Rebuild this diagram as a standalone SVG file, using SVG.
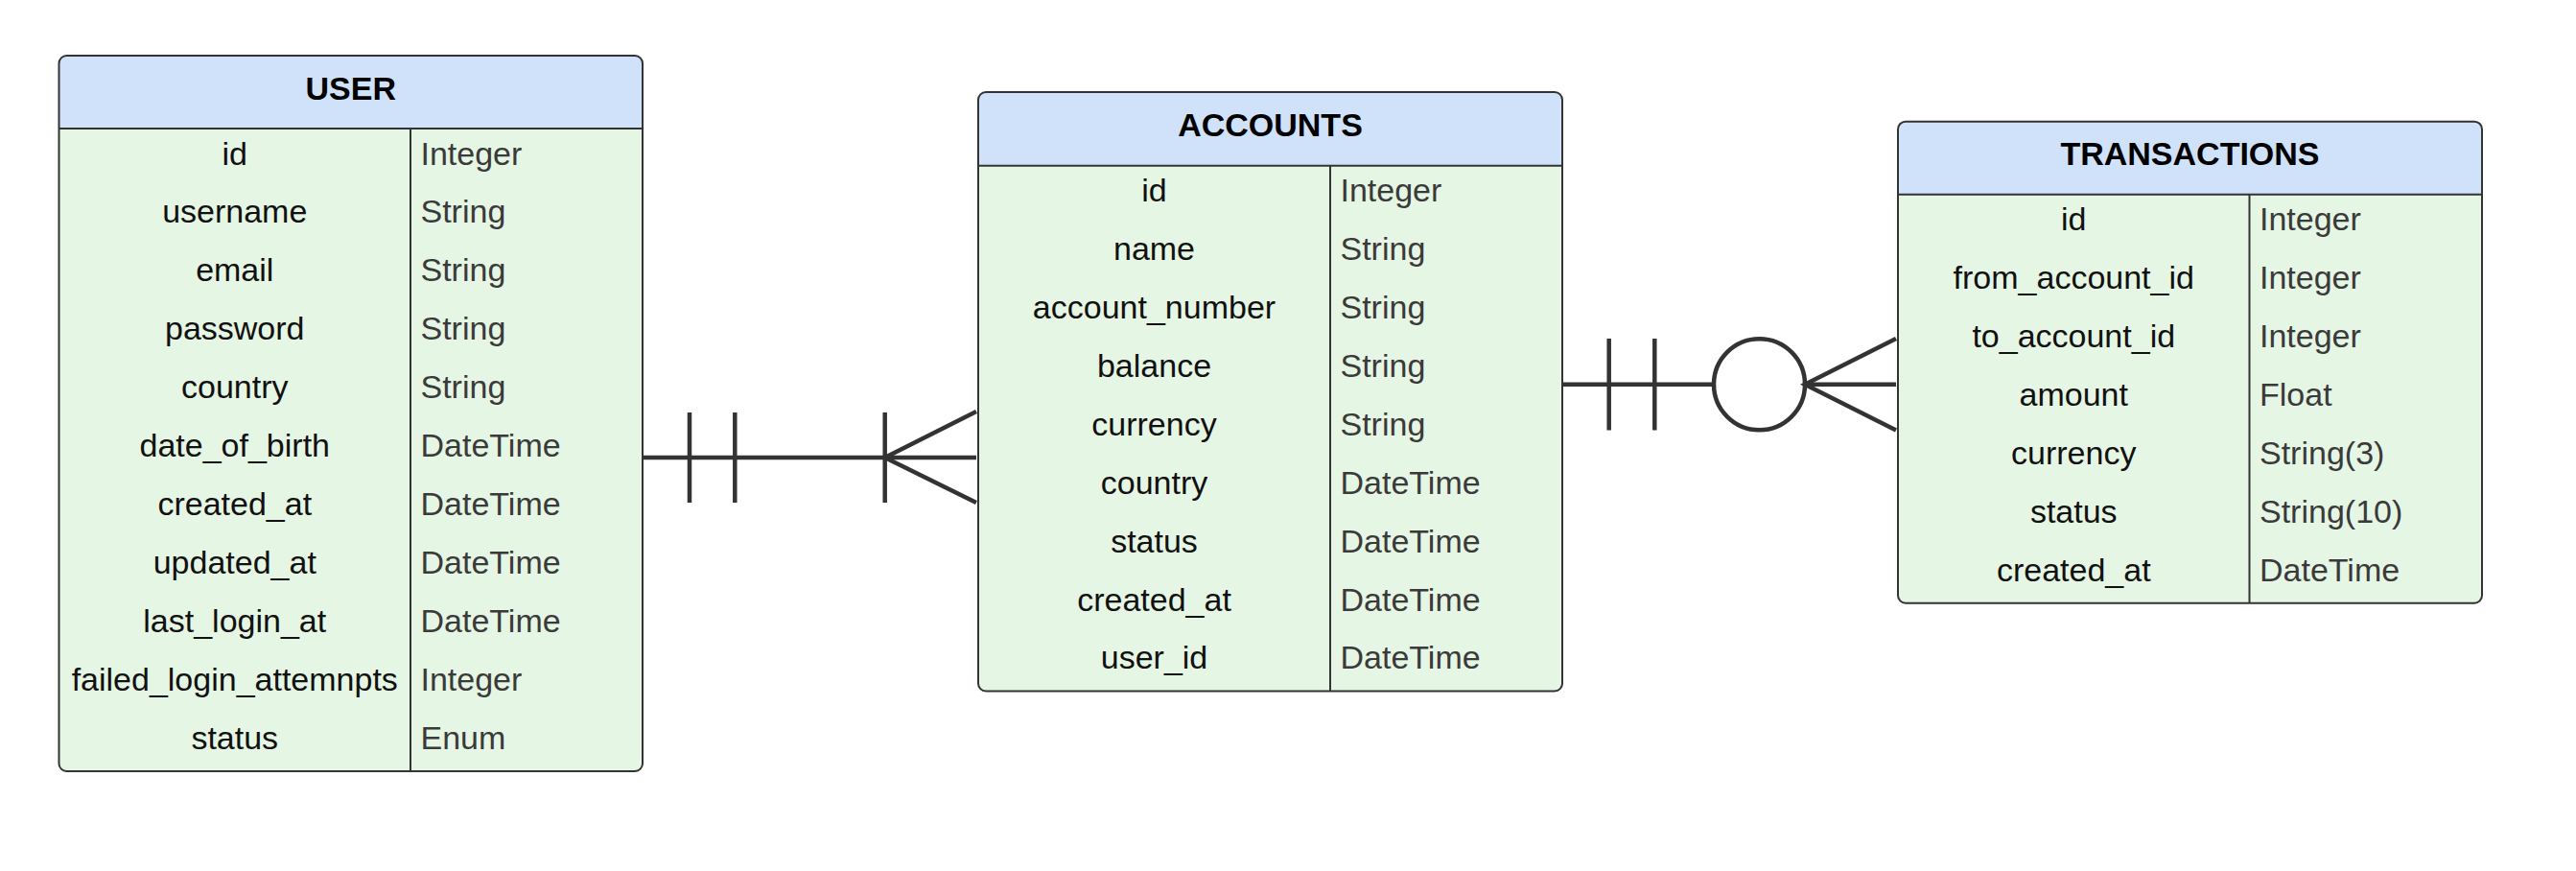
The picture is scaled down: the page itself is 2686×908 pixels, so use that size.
<svg xmlns="http://www.w3.org/2000/svg" width="2686" height="908" viewBox="0 0 2686 908">
<style>
.body{fill:#e6f6e4;stroke:none}
.head{fill:#d0e2fa;stroke:none}
.outline{fill:none;stroke:#333333;stroke-width:2}
.div{stroke:#333333;stroke-width:2;fill:none}
.title{font-family:"Liberation Sans",Arial,sans-serif;font-size:34px;font-weight:bold;fill:#000000;text-anchor:middle}
.name{font-family:"Liberation Sans",Arial,sans-serif;font-size:34px;fill:#111111;text-anchor:middle}
.type{font-family:"Liberation Sans",Arial,sans-serif;font-size:34px;fill:#3a3a3a;text-anchor:start}
.conn{stroke:#333333;stroke-width:4.5;fill:none}
</style>
<rect width="2686" height="908" fill="#ffffff"/>
<g id="user">
<rect class="body" x="61.5" y="58" width="608.5" height="746" rx="8"/>
<path class="head" d="M61.5,134 V66 A8,8 0 0 1 69.5,58 H662 A8,8 0 0 1 670,66 V134 Z"/>
<line class="div" x1="61.5" y1="134" x2="670" y2="134"/>
<line class="div" x1="428" y1="134" x2="428" y2="804"/>
<rect class="outline" x="61.5" y="58" width="608.5" height="746" rx="8"/>
<text class="title" x="365.75" y="103.5">USER</text>
<text class="name" x="244.75" y="171.5">id</text><text class="type" x="438.5" y="171.5">Integer</text>
<text class="name" x="244.75" y="232.4">username</text><text class="type" x="438.5" y="232.4">String</text>
<text class="name" x="244.75" y="293.3">email</text><text class="type" x="438.5" y="293.3">String</text>
<text class="name" x="244.75" y="354.2">password</text><text class="type" x="438.5" y="354.2">String</text>
<text class="name" x="244.75" y="415.1">country</text><text class="type" x="438.5" y="415.1">String</text>
<text class="name" x="244.75" y="476">date_of_birth</text><text class="type" x="438.5" y="476">DateTime</text>
<text class="name" x="244.75" y="536.9">created_at</text><text class="type" x="438.5" y="536.9">DateTime</text>
<text class="name" x="244.75" y="597.8">updated_at</text><text class="type" x="438.5" y="597.8">DateTime</text>
<text class="name" x="244.75" y="658.7">last_login_at</text><text class="type" x="438.5" y="658.7">DateTime</text>
<text class="name" x="244.75" y="719.6">failed_login_attemnpts</text><text class="type" x="438.5" y="719.6">Integer</text>
<text class="name" x="244.75" y="780.5">status</text><text class="type" x="438.5" y="780.5">Enum</text>
</g>
<g id="accounts">
<rect class="body" x="1020" y="96" width="609" height="624.5" rx="8"/>
<path class="head" d="M1020,172.7 V104 A8,8 0 0 1 1028,96 H1621 A8,8 0 0 1 1629,104 V172.7 Z"/>
<line class="div" x1="1020" y1="172.7" x2="1629" y2="172.7"/>
<line class="div" x1="1387" y1="172.7" x2="1387" y2="720.5"/>
<rect class="outline" x="1020" y="96" width="609" height="624.5" rx="8"/>
<text class="title" x="1324.5" y="141.5">ACCOUNTS</text>
<text class="name" x="1203.5" y="210.2">id</text><text class="type" x="1397.5" y="210.2">Integer</text>
<text class="name" x="1203.5" y="271.1">name</text><text class="type" x="1397.5" y="271.1">String</text>
<text class="name" x="1203.5" y="332">account_number</text><text class="type" x="1397.5" y="332">String</text>
<text class="name" x="1203.5" y="392.9">balance</text><text class="type" x="1397.5" y="392.9">String</text>
<text class="name" x="1203.5" y="453.8">currency</text><text class="type" x="1397.5" y="453.8">String</text>
<text class="name" x="1203.5" y="514.7">country</text><text class="type" x="1397.5" y="514.7">DateTime</text>
<text class="name" x="1203.5" y="575.6">status</text><text class="type" x="1397.5" y="575.6">DateTime</text>
<text class="name" x="1203.5" y="636.5">created_at</text><text class="type" x="1397.5" y="636.5">DateTime</text>
<text class="name" x="1203.5" y="697.4">user_id</text><text class="type" x="1397.5" y="697.4">DateTime</text>
</g>
<g id="transactions">
<rect class="body" x="1979" y="126.7" width="609" height="502" rx="8"/>
<path class="head" d="M1979,202.7 V134.7 A8,8 0 0 1 1987,126.7 H2580 A8,8 0 0 1 2588,134.7 V202.7 Z"/>
<line class="div" x1="1979" y1="202.7" x2="2588" y2="202.7"/>
<line class="div" x1="2345.5" y1="202.7" x2="2345.5" y2="628.7"/>
<rect class="outline" x="1979" y="126.7" width="609" height="502" rx="8"/>
<text class="title" x="2283.5" y="171.8">TRANSACTIONS</text>
<text class="name" x="2162.25" y="240.2">id</text><text class="type" x="2356" y="240.2">Integer</text>
<text class="name" x="2162.25" y="301.1">from_account_id</text><text class="type" x="2356" y="301.1">Integer</text>
<text class="name" x="2162.25" y="362">to_account_id</text><text class="type" x="2356" y="362">Integer</text>
<text class="name" x="2162.25" y="422.9">amount</text><text class="type" x="2356" y="422.9">Float</text>
<text class="name" x="2162.25" y="483.8">currency</text><text class="type" x="2356" y="483.8">String(3)</text>
<text class="name" x="2162.25" y="544.7">status</text><text class="type" x="2356" y="544.7">String(10)</text>
<text class="name" x="2162.25" y="605.6">created_at</text><text class="type" x="2356" y="605.6">DateTime</text>
</g>
<g id="connectors">
<g id="user-accounts">
<line class="conn" x1="671" y1="477" x2="1018" y2="477"/>
<line class="conn" x1="719" y1="430" x2="719" y2="524"/>
<line class="conn" x1="766.3" y1="430" x2="766.3" y2="524"/>
<line class="conn" x1="922.7" y1="430" x2="922.7" y2="524"/>
<polyline class="conn" points="1018,429 922.7,477 1018,524"/>
</g>
<g id="accounts-transactions">
<line class="conn" x1="1630" y1="400.7" x2="1786.5" y2="400.7"/>
<line class="conn" x1="1677.7" y1="353" x2="1677.7" y2="448.5"/>
<line class="conn" x1="1725.3" y1="353" x2="1725.3" y2="448.5"/>
<circle class="conn" cx="1834.5" cy="400.7" r="47.5"/>
<line class="conn" x1="1882" y1="400.7" x2="1977" y2="400.7"/>
<polyline class="conn" points="1977,353 1882,400.7 1977,448.5"/>
</g>
</g>
</svg>
